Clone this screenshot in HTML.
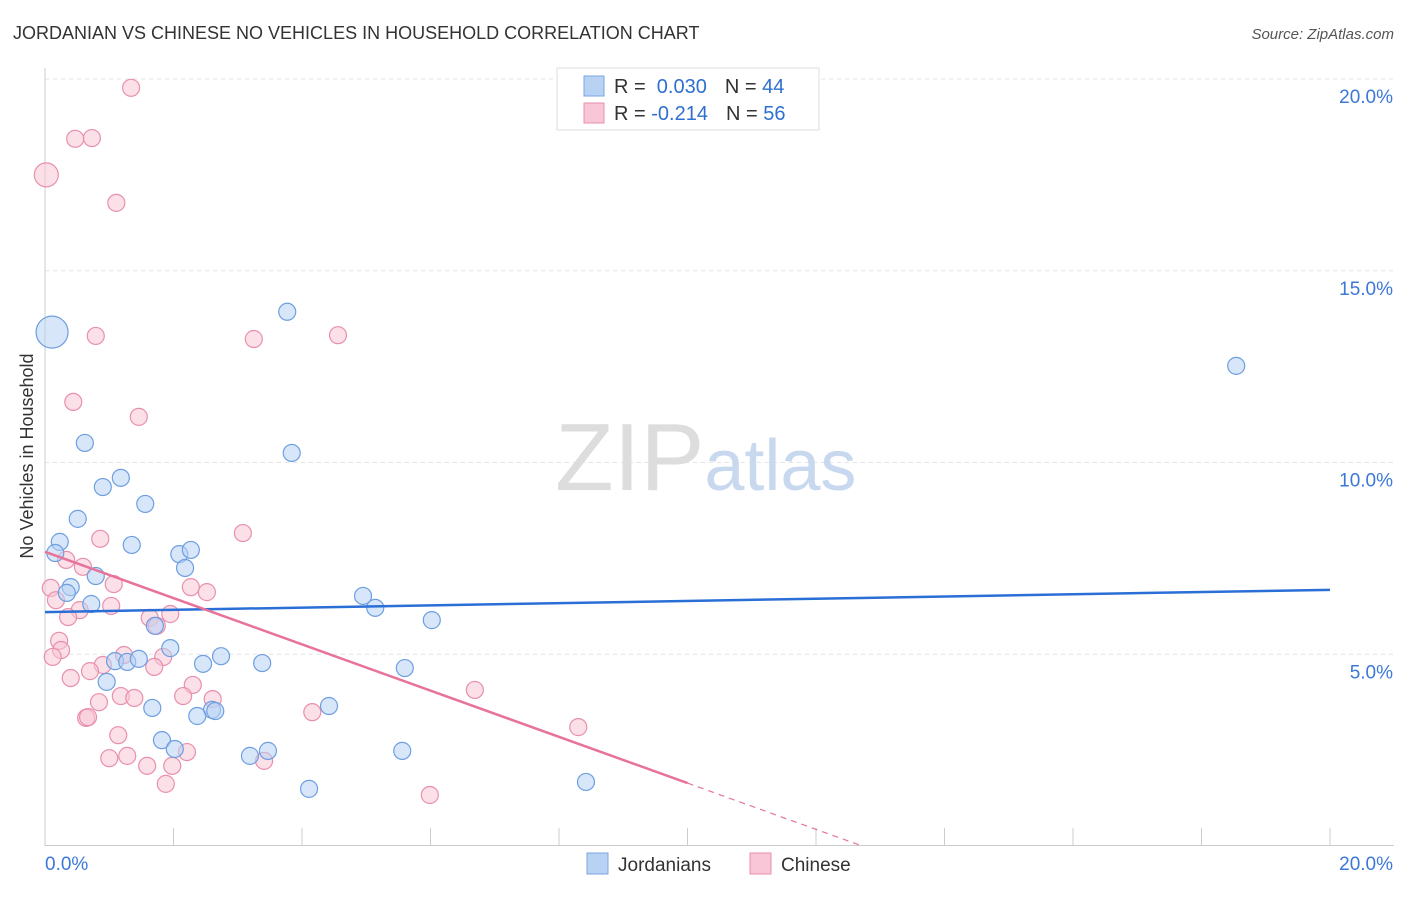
<!DOCTYPE html>
<html><head><meta charset="utf-8"><style>
body{margin:0;background:#fff;font-family:"Liberation Sans",sans-serif;}
svg text{font-family:"Liberation Sans",sans-serif;}
</style></head><body>
<svg id="chart" width="1406" height="892" xmlns="http://www.w3.org/2000/svg">
<text x="13" y="39" font-size="18" fill="#333">JORDANIAN VS CHINESE NO VEHICLES IN HOUSEHOLD CORRELATION CHART</text>
<text x="1394" y="39" font-size="15" fill="#555" text-anchor="end" font-style="italic">Source: ZipAtlas.com</text>
<g id="grid"></g>
<g id="ticks"></g>
<text x="555" y="490" font-size="96" font-family="Liberation Serif" fill="#ddd">ZIP<tspan fill="#c8d8ee" font-family="Liberation Sans" font-size="72">atlas</tspan></text>
<text transform="translate(33,456) rotate(-90)" font-size="18" fill="#333" text-anchor="middle">No Vehicles in Household</text>
<g id="pts"></g>
<g id="trends"></g>
<g>
<rect x="557" y="68" width="262" height="62" fill="#fff" stroke="#ddd"/>
<rect x="584" y="76" width="20" height="20" fill="#b8d2f4" stroke="#7aa6e0"/>
<rect x="584" y="103" width="20" height="20" fill="#f8c6d6" stroke="#e98fae"/>
<text x="614" y="93" font-size="20" fill="#333">R = <tspan fill="#2f6fcf">&#160;0.030</tspan><tspan dx="18">N = </tspan><tspan fill="#2f6fcf">44</tspan></text>
<text x="614" y="120" font-size="20" fill="#333">R = <tspan fill="#2f6fcf">-0.214</tspan><tspan dx="18">N = </tspan><tspan fill="#2f6fcf">56</tspan></text>
</g>
<g>
<rect x="587" y="853" width="21" height="21" fill="#b8d2f4" stroke="#7aa6e0"/>
<text x="618" y="871" font-size="19" fill="#333">Jordanians</text>
<rect x="750" y="853" width="21" height="21" fill="#f8c6d6" stroke="#e98fae"/>
<text x="781" y="871" font-size="19" fill="#333">Chinese</text>
</g>
</svg>
<script>
const blueX=[0.11,3.77,18.54,0.62,3.84,1.18,0.90,1.56,0.51,0.23,0.16,1.35,2.09,2.27,2.18,0.79,0.40,0.34,0.72,4.95,5.14,6.02,1.71,1.95,2.74,2.46,3.38,1.09,1.28,1.46,5.60,0.96,1.67,2.60,2.65,2.37,4.42,1.82,2.02,3.19,3.47,5.56,8.42,4.11];
const blueY=[13.40,13.93,12.52,10.51,10.25,9.60,9.36,8.92,8.53,7.93,7.64,7.85,7.61,7.72,7.25,7.04,6.75,6.60,6.31,6.52,6.21,5.89,5.74,5.16,4.95,4.75,4.77,4.82,4.80,4.88,4.64,4.28,3.60,3.55,3.52,3.39,3.65,2.76,2.53,2.35,2.48,2.48,1.67,1.49];
const pinkX=[1.34,0.47,0.73,0.02,1.11,0.79,3.25,4.56,0.44,1.46,3.08,0.86,0.33,0.09,0.59,1.07,2.27,2.52,0.17,0.54,1.03,0.36,1.63,1.74,1.95,0.22,0.25,0.12,1.23,1.84,0.90,1.70,0.70,0.40,2.30,6.69,1.18,1.39,2.15,2.61,0.84,4.16,0.64,0.67,1.14,8.30,2.21,1.00,1.28,1.59,1.98,3.41,1.88,5.99];
const pinkY=[19.77,18.44,18.46,17.50,16.77,13.30,13.22,13.32,11.58,11.19,8.16,8.01,7.46,6.73,7.28,6.83,6.75,6.62,6.41,6.15,6.26,5.97,5.95,5.74,6.05,5.35,5.11,4.93,4.98,4.93,4.72,4.67,4.56,4.38,4.20,4.07,3.91,3.86,3.91,3.83,3.75,3.49,3.34,3.36,2.89,3.10,2.45,2.29,2.35,2.09,2.09,2.22,1.62,1.33];
const blueTrend=[6.10,6.68];
const pinkTrend=[7.67,-0.603];
const yTicks=[5,10,15,20];
const NS='http://www.w3.org/2000/svg';
const sx=v=>45+v/20*1285, sy=v=>846-v/5*191.75;
function mk(tag,attrs,parent){const e=document.createElementNS(NS,tag);for(const k in attrs)e.setAttribute(k,attrs[k]);parent.appendChild(e);return e;}
const grid=document.getElementById('grid'),ticks=document.getElementById('ticks'),pts=document.getElementById('pts'),tr=document.getElementById('trends');
mk('line',{x1:45,y1:79,x2:1394,y2:79,stroke:'#e4e4e4','stroke-dasharray':'4,4'},grid);
yTicks.forEach(t=>{
 const l=mk('line',{x1:45,y1:sy(t),x2:1394,y2:sy(t),stroke:'#e4e4e4','stroke-dasharray':'4,4'},grid);
 
 
 const tx=mk('text',{x:1393,y:sy(t)+24,'font-size':19,fill:'#3b78d8','text-anchor':'end'},ticks);
 tx.textContent=t.toFixed(1)+'%';
 
 
});
mk('line',{x1:45,y1:68,x2:45,y2:846,stroke:'#ccc'},ticks);
mk('line',{x1:45,y1:845.5,x2:1394,y2:845.5,stroke:'#ccc'},ticks);
for(let i=0;i<=10;i++){const t=mk('line',{x1:sx(i*2),y1:828,x2:sx(i*2),y2:846,stroke:'#ccc'},ticks);
 
 }
const xl=mk('text',{x:45,y:870,'font-size':19,fill:'#3b78d8'},ticks);xl.textContent='0.0%';


const xr=mk('text',{x:1393,y:870,'font-size':19,fill:'#3b78d8','text-anchor':'end'},ticks);xr.textContent='20.0%';


function dots(X,Y,fill,stroke,name,big){X.forEach((x,i)=>{
 const r=(i===big)?(name==='jordanian-point'?16:12):8.5;
 const c=mk('circle',{cx:sx(x),cy:sy(Y[i]),r:r,fill:fill,'fill-opacity':0.55,stroke:stroke,'stroke-width':1.2},pts);
 
 
});}
dots(pinkX,pinkY,'#f8c6d6','#e98fae','chinese-point',3);
dots(blueX,blueY,'#b8d2f4','#6d9fe0','jordanian-point',0);
const bl=mk('line',{x1:sx(0),y1:sy(blueTrend[0]),x2:sx(20),y2:sy(blueTrend[1]),stroke:'#2a6fd6','stroke-width':2.5},tr);


const pf=x=>pinkTrend[0]+pinkTrend[1]*x;
const pl=mk('line',{x1:sx(0),y1:sy(pf(0)),x2:sx(10),y2:sy(pf(10)),stroke:'#e8739a','stroke-width':2.5},tr);


const xe=-pinkTrend[0]/pinkTrend[1];
const pd=mk('line',{x1:sx(10),y1:sy(pf(10)),x2:sx(xe),y2:sy(0),stroke:'#e8739a','stroke-width':1.2,'stroke-dasharray':'6,5'},tr);


</script>
</body></html>
